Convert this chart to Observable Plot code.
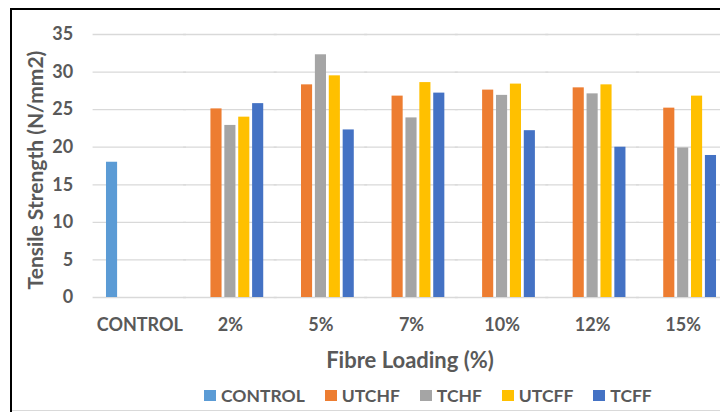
<!DOCTYPE html>
<html>
<head>
<meta charset="utf-8">
<script src="https://cdn.jsdelivr.net/npm/d3@7"></script>
<script src="https://cdn.jsdelivr.net/npm/@observablehq/plot@0.6"></script>
<style>
  html, body { margin: 0; padding: 0; background: #fff; overflow: hidden; }
  #wrap { position: relative; width: 720px; height: 412px; overflow: hidden; font-family: Lato, "Open Sans", sans-serif; }
  #chart { position: absolute; left: 0; top: 0; }
  .bl { position: absolute; left: 10px; top: 8px; width: 2px; height: 404px; background: #000; }
  .bt { position: absolute; left: 10px; top: 8px; width: 710px; height: 2px; background: #000; }
  .bb { position: absolute; left: 12px; top: 410px; width: 708px; height: 1px; background: #d9d9d9; }
  .title { position: absolute; font-weight: 700; color: #595959; white-space: nowrap; line-height: 1; }
  #xtitle { left: 410px; top: 349px; font-size: 22px; transform: translateX(-50%); }
  #ytitle { left: 34px; top: 170px; font-size: 21px; transform: translate(-50%, -50%) rotate(-90deg); }
  #legend { position: absolute; left: 204px; top: 387px; display: flex; gap: 20px; font-weight: 700; font-size: 17.5px; color: #595959; line-height: 1; }
  #legend span.item { display: inline-flex; align-items: center; gap: 5px; }
  #legend i { display: inline-block; width: 12px; height: 11px; }
</style>
</head>
<body>
<div id="wrap">
  <div id="chart"></div>
  <div id="ytitle" class="title"></div>
  <div id="xtitle" class="title"></div>
  <div id="legend"></div>
  <div class="bl"></div><div class="bt"></div><div class="bb"></div>
</div>
<script>
const categories = ["CONTROL", "2%", "5%", "7%", "10%", "12%", "15%"];
const series = ["CONTROL", "UTCHF", "TCHF", "UTCFF", "TCFF"];
const colors = ["#5B9BD5", "#ED7D31", "#A5A5A5", "#FFC000", "#4472C4"];
const control = [18.0, null, null, null, null, null, null];
const utchf = [null, 25.1, 28.3, 26.8, 27.6, 27.9, 25.2];
const tchf  = [null, 22.9, 32.3, 23.9, 26.9, 27.1, 19.9];
const utcff = [null, 24.0, 29.5, 28.6, 28.4, 28.3, 26.8];
const tcff  = [null, 25.8, 22.3, 27.2, 22.2, 20.0, 18.9];
const yTicks = [0, 5, 10, 15, 20, 25, 30, 35];
const xTitle = "Fibre Loading (%)";
const yTitle = "Tensile Strength (N/mm2)";

const valuesBySeries = [control, utchf, tchf, utcff, tcff];
const data = [];
series.forEach((s, si) => {
  valuesBySeries[si].forEach((v, ci) => {
    if (v != null) data.push({cat: categories[ci], series: s, value: v});
  });
});

const textColor = "#595959";
const chart = Plot.plot({
  width: 720,
  height: 380,
  marginLeft: 94,
  marginRight: -8,
  marginTop: 34,
  marginBottom: 83,
  style: {fontFamily: "Lato, 'Open Sans', sans-serif", background: "transparent"},
  fx: {domain: categories, paddingInner: 0.233, paddingOuter: 0.117, round: false, label: null},
  x: {domain: series, paddingInner: 0.2, paddingOuter: 0.1, round: false, axis: null},
  y: {domain: [0, 35], label: null},
  color: {domain: series, range: colors},
  marks: [
    Plot.ruleY(yTicks, {stroke: "#d9d9d9", strokeWidth: 1.3, insetLeft: -12, insetRight: -12}),
    Plot.barY(data, {fx: "cat", x: "series", y: "value", fill: "series"}),
    Plot.axisY(yTicks, {tickSize: 0, tickPadding: 32, fontSize: 18, fontWeight: 700, fill: textColor, label: null}),
    Plot.axisFx({anchor: "bottom", tickSize: 0, tickPadding: 21, fontSize: 18, fontWeight: 700, fill: textColor, label: null})
  ]
});
document.getElementById("chart").appendChild(chart);

document.getElementById("xtitle").textContent = xTitle;
document.getElementById("ytitle").textContent = yTitle;

const leg = document.getElementById("legend");
series.forEach((s, i) => {
  const it = document.createElement("span");
  it.className = "item";
  const sw = document.createElement("i");
  sw.style.background = colors[i];
  it.appendChild(sw);
  it.appendChild(document.createTextNode(s));
  leg.appendChild(it);
});
</script>
</body>
</html>
